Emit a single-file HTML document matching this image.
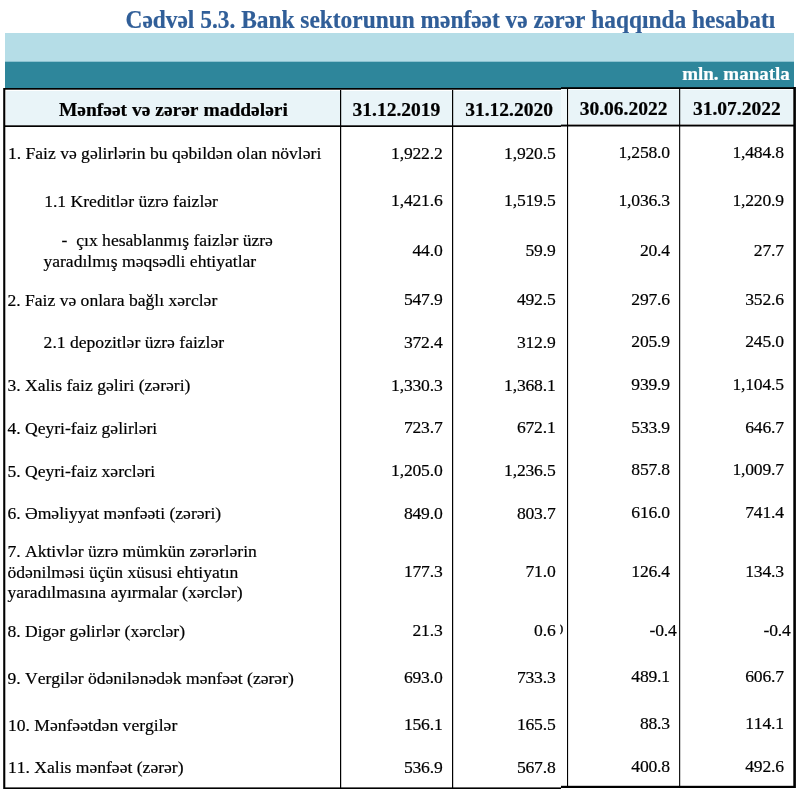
<!DOCTYPE html>
<html lang="az"><head><meta charset="utf-8"><title>Cədvəl 5.3</title>
<style>
html,body{margin:0;padding:0;background:#fff;}
body{width:800px;height:789px;position:relative;overflow:hidden;font-family:"Liberation Serif","DejaVu Serif",serif;color:#000;}
.t{position:absolute;white-space:pre;line-height:1;font-kerning:none;-webkit-text-stroke:0.2px currentColor;font-size:17.58px;}
.r{text-align:right;letter-spacing:-0.19px;}
.b{position:absolute;background:#000;}
.h{font-weight:bold;font-size:19.5px;text-align:center;}
</style></head><body><div id="page" style="position:absolute;left:0;top:0;width:800px;height:789px;will-change:transform;">

<div class="t" id="title" style="left:125.5px;top:9.00px;font-size:23.4px;font-weight:bold;color:#305e98;transform:translateY(-0.4px) scaleY(1.09);transform-origin:0 19.00px;">Cədvəl 5.3. Bank sektorunun mənfəət və zərər haqqında hesabatı</div>
<div style="position:absolute;left:5px;top:33px;width:789px;height:29px;background:#b5dde7;"></div>
<div style="position:absolute;left:5px;top:62px;width:789px;height:27px;background:#2e869b;"></div>
<div class="t" id="mln" style="right:10.2px;top:64.00px;font-size:19px;font-weight:bold;color:#fff;">mln. manatla</div>
<div style="position:absolute;left:6px;top:91px;width:555px;height:34px;background:#e9f4f8;"></div>
<div style="position:absolute;left:569px;top:90px;width:224px;height:34px;background:#e9f4f8;"></div>
<div style="position:absolute;left:561px;top:89px;width:6px;height:36px;background:#f1f8fb;"></div>
<div style="position:absolute;left:5px;top:61px;width:789px;height:1px;background:rgba(46,134,155,0.30);"></div>
<div style="position:absolute;left:5px;top:88px;width:556px;height:1px;background:rgba(0,0,0,1.00);"></div>
<div style="position:absolute;left:5px;top:89px;width:556px;height:1px;background:rgba(0,0,0,0.70);"></div>
<div style="position:absolute;left:5px;top:125px;width:556px;height:1px;background:rgba(0,0,0,0.70);"></div>
<div style="position:absolute;left:5px;top:126px;width:556px;height:1px;background:rgba(0,0,0,1.00);"></div>
<div style="position:absolute;left:5px;top:787px;width:556px;height:1px;background:rgba(0,0,0,0.60);"></div>
<div style="position:absolute;left:5px;top:788px;width:556px;height:1px;background:rgba(0,0,0,1.00);"></div>
<div style="position:absolute;left:3px;top:88px;width:1px;height:701px;background:rgba(0,0,0,0.80);"></div>
<div style="position:absolute;left:4px;top:88px;width:1px;height:701px;background:rgba(0,0,0,1.00);"></div>
<div style="position:absolute;left:5px;top:88px;width:1px;height:701px;background:rgba(0,0,0,0.30);"></div>
<div style="position:absolute;left:340px;top:90px;width:1px;height:698px;background:rgba(0,0,0,1.00);"></div>
<div style="position:absolute;left:341px;top:90px;width:1px;height:698px;background:rgba(0,0,0,0.20);"></div>
<div style="position:absolute;left:452px;top:90px;width:1px;height:698px;background:rgba(0,0,0,1.00);"></div>
<div style="position:absolute;left:453px;top:90px;width:1px;height:698px;background:rgba(0,0,0,0.20);"></div>
<div style="position:absolute;left:561px;top:87px;width:233px;height:1px;background:rgba(0,0,0,0.80);"></div>
<div style="position:absolute;left:561px;top:88px;width:233px;height:1px;background:rgba(0,0,0,1.00);"></div>
<div style="position:absolute;left:561px;top:124px;width:233px;height:1px;background:rgba(0,0,0,0.40);"></div>
<div style="position:absolute;left:561px;top:125px;width:233px;height:1px;background:rgba(0,0,0,1.00);"></div>
<div style="position:absolute;left:561px;top:126px;width:233px;height:1px;background:rgba(0,0,0,0.50);"></div>
<div style="position:absolute;left:561px;top:785px;width:233px;height:1px;background:rgba(0,0,0,0.20);"></div>
<div style="position:absolute;left:561px;top:786px;width:233px;height:1px;background:rgba(0,0,0,1.00);"></div>
<div style="position:absolute;left:561px;top:787px;width:233px;height:1px;background:rgba(0,0,0,1.00);"></div>
<div style="position:absolute;left:567px;top:89px;width:1px;height:697px;background:rgba(0,0,0,1.00);"></div>
<div style="position:absolute;left:568px;top:89px;width:1px;height:697px;background:rgba(0,0,0,0.10);"></div>
<div style="position:absolute;left:679px;top:89px;width:1px;height:697px;background:rgba(0,0,0,0.90);"></div>
<div style="position:absolute;left:680px;top:89px;width:1px;height:697px;background:rgba(0,0,0,0.20);"></div>
<div style="position:absolute;left:793px;top:87px;width:1px;height:701px;background:rgba(0,0,0,0.70);"></div>
<div style="position:absolute;left:794px;top:87px;width:1px;height:701px;background:rgba(0,0,0,1.00);"></div>
<div style="position:absolute;left:795px;top:87px;width:1px;height:701px;background:rgba(0,0,0,0.90);"></div>
<div class="t h" style="left:23.4px;width:300px;top:100.00px;">Mənfəət və zərər maddələri</div>
<div class="t h" style="left:246.4px;width:300px;top:100.00px;">31.12.2019</div>
<div class="t h" style="left:359.1px;width:300px;top:100.00px;">31.12.2020</div>
<div class="t h" style="left:473.5px;width:300px;top:99.00px;">30.06.2022</div>
<div class="t h" style="left:586.8px;width:300px;top:99.00px;">31.07.2022</div>
<div class="t" style="left:7.9px;top:145.00px;">1. Faiz və gəlirlərin bu qəbildən olan növləri</div>
<div class="t" style="left:44.2px;top:193.00px;">1.1 Kreditlər üzrə faizlər</div>
<div class="t" style="left:61.6px;top:232.00px;">-  çıx hesablanmış faizlər üzrə</div>
<div class="t" style="left:43.4px;top:253.00px;">yaradılmış məqsədli ehtiyatlar</div>
<div class="t" style="left:7.4px;top:292.00px;">2. Faiz və onlara bağlı xərclər</div>
<div class="t" style="left:43.6px;top:334.00px;">2.1 depozitlər üzrə faizlər</div>
<div class="t" style="left:7.4px;top:377.00px;">3. Xalis faiz gəliri (zərəri)</div>
<div class="t" style="left:7.4px;top:420.00px;">4. Qeyri-faiz gəlirləri</div>
<div class="t" style="left:7.4px;top:463.00px;">5. Qeyri-faiz xərcləri</div>
<div class="t" style="left:7.4px;top:505.00px;">6. Əməliyyat mənfəəti (zərəri)</div>
<div class="t" style="left:7.4px;top:543.00px;">7. Aktivlər üzrə mümkün zərərlərin</div>
<div class="t" style="left:7.4px;top:564.00px;">ödənilməsi üçün xüsusi ehtiyatın</div>
<div class="t" style="left:7.4px;top:584.00px;">yaradılmasına ayırmalar (xərclər)</div>
<div class="t" style="left:7.4px;top:623.00px;">8. Digər gəlirlər (xərclər)</div>
<div class="t" style="left:7.4px;top:670.00px;">9. Vergilər ödənilənədək mənfəət (zərər)</div>
<div class="t" style="left:7.9px;top:717.00px;">10. Mənfəətdən vergilər</div>
<div class="t" style="left:7.9px;top:759.00px;">11. Xalis mənfəət (zərər)</div>
<div class="t r" style="left:342.5px;width:100px;top:145.00px;">1,922.2</div>
<div class="t r" style="left:455.5px;width:100px;top:145.00px;">1,920.5</div>
<div class="t r" style="left:569.9px;width:100px;top:144.00px;">1,258.0</div>
<div class="t r" style="left:683.8px;width:100px;top:144.00px;">1,484.8</div>
<div class="t r" style="left:342.5px;width:100px;top:192.00px;">1,421.6</div>
<div class="t r" style="left:455.5px;width:100px;top:192.00px;">1,519.5</div>
<div class="t r" style="left:569.9px;width:100px;top:192.00px;">1,036.3</div>
<div class="t r" style="left:683.8px;width:100px;top:192.00px;">1,220.9</div>
<div class="t r" style="left:342.5px;width:100px;top:242.00px;">44.0</div>
<div class="t r" style="left:455.5px;width:100px;top:242.00px;">59.9</div>
<div class="t r" style="left:569.9px;width:100px;top:242.00px;">20.4</div>
<div class="t r" style="left:683.8px;width:100px;top:242.00px;">27.7</div>
<div class="t r" style="left:342.5px;width:100px;top:291.00px;">547.9</div>
<div class="t r" style="left:455.5px;width:100px;top:291.00px;">492.5</div>
<div class="t r" style="left:569.9px;width:100px;top:291.00px;">297.6</div>
<div class="t r" style="left:683.8px;width:100px;top:291.00px;">352.6</div>
<div class="t r" style="left:342.5px;width:100px;top:334.00px;">372.4</div>
<div class="t r" style="left:455.5px;width:100px;top:334.00px;">312.9</div>
<div class="t r" style="left:569.9px;width:100px;top:333.00px;">205.9</div>
<div class="t r" style="left:683.8px;width:100px;top:333.00px;">245.0</div>
<div class="t r" style="left:342.5px;width:100px;top:377.00px;">1,330.3</div>
<div class="t r" style="left:455.5px;width:100px;top:377.00px;">1,368.1</div>
<div class="t r" style="left:569.9px;width:100px;top:376.00px;">939.9</div>
<div class="t r" style="left:683.8px;width:100px;top:376.00px;">1,104.5</div>
<div class="t r" style="left:342.5px;width:100px;top:419.00px;">723.7</div>
<div class="t r" style="left:455.5px;width:100px;top:419.00px;">672.1</div>
<div class="t r" style="left:569.9px;width:100px;top:419.00px;">533.9</div>
<div class="t r" style="left:683.8px;width:100px;top:419.00px;">646.7</div>
<div class="t r" style="left:342.5px;width:100px;top:462.00px;">1,205.0</div>
<div class="t r" style="left:455.5px;width:100px;top:462.00px;">1,236.5</div>
<div class="t r" style="left:569.9px;width:100px;top:461.00px;">857.8</div>
<div class="t r" style="left:683.8px;width:100px;top:461.00px;">1,009.7</div>
<div class="t r" style="left:342.5px;width:100px;top:505.00px;">849.0</div>
<div class="t r" style="left:455.5px;width:100px;top:505.00px;">803.7</div>
<div class="t r" style="left:569.9px;width:100px;top:504.00px;">616.0</div>
<div class="t r" style="left:683.8px;width:100px;top:504.00px;">741.4</div>
<div class="t r" style="left:342.5px;width:100px;top:563.00px;">177.3</div>
<div class="t r" style="left:455.5px;width:100px;top:563.00px;">71.0</div>
<div class="t r" style="left:569.9px;width:100px;top:563.00px;">126.4</div>
<div class="t r" style="left:683.8px;width:100px;top:563.00px;">134.3</div>
<div class="t r" style="left:342.5px;width:100px;top:622.00px;">21.3</div>
<div class="t r" style="left:455.5px;width:100px;top:622.00px;">0.6</div>
<div class="t r" style="left:576.7px;width:100px;top:622.00px;">-0.4</div>
<div class="t r" style="left:690.6px;width:100px;top:622.00px;">-0.4</div>
<div class="t r" style="left:342.5px;width:100px;top:669.00px;">693.0</div>
<div class="t r" style="left:455.5px;width:100px;top:669.00px;">733.3</div>
<div class="t r" style="left:569.9px;width:100px;top:668.00px;">489.1</div>
<div class="t r" style="left:683.8px;width:100px;top:668.00px;">606.7</div>
<div class="t r" style="left:342.5px;width:100px;top:716.00px;">156.1</div>
<div class="t r" style="left:455.5px;width:100px;top:716.00px;">165.5</div>
<div class="t r" style="left:569.9px;width:100px;top:715.00px;">88.3</div>
<div class="t r" style="left:683.8px;width:100px;top:715.00px;">114.1</div>
<div class="t r" style="left:342.5px;width:100px;top:759.00px;">536.9</div>
<div class="t r" style="left:455.5px;width:100px;top:759.00px;">567.8</div>
<div class="t r" style="left:569.9px;width:100px;top:758.00px;">400.8</div>
<div class="t r" style="left:683.8px;width:100px;top:758.00px;">492.6</div>
<div class="t" style="left:559.8px;top:624.30px;font-size:10.5px;font-weight:bold;color:#000;">)</div>
</div></body></html>
